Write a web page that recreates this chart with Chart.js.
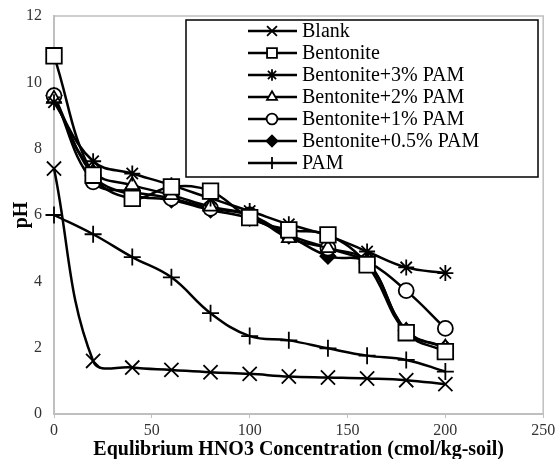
<!DOCTYPE html>
<html>
<head>
<meta charset="utf-8">
<script src="https://cdn.jsdelivr.net/npm/chart.js@4/dist/chart.umd.min.js"></script>
<style>
  html, body { margin: 0; padding: 0; background: #fff; }
  #wrap { width: 556px; height: 459px; }
</style>
</head>
<body>
<div id="wrap"><canvas id="mainChart" width="556" height="459"></canvas></div>
<script>
// acid concentration (cmol/kg-soil)
const conc = [0, 20, 40, 60, 80, 100, 120, 140, 160, 180, 200];

const blank      = [7.4, 1.6, 1.4, 1.33, 1.26, 1.21, 1.13, 1.1, 1.07, 1.02, 0.9];
const bentonite  = [10.8, 7.2, 6.5, 6.85, 6.72, 5.92, 5.55, 5.4, 4.5, 2.45, 1.88];
const bent3pam   = [9.4, 7.62, 7.25, 6.9, 6.5, 6.12, 5.72, 5.38, 4.9, 4.42, 4.25];
const bent2pam   = [9.5, 7.3, 6.9, 6.6, 6.25, 6.0, 5.3, 5.0, 4.6, 2.5, 2.0];
const bent1pam   = [9.6, 7.0, 6.7, 6.5, 6.2, 6.0, 5.4, 5.0, 4.6, 3.72, 2.58];
const bent05pam  = [9.6, 7.2, 6.6, 6.45, 6.15, 5.9, 5.37, 4.76, 4.55, 2.52, 2.0];
const pam        = [6.0, 5.42, 4.73, 4.12, 3.04, 2.35, 2.22, 1.98, 1.76, 1.63, 1.28];

const seriesNames = ['Blank', 'Bentonite', 'Bentonite+3% PAM', 'Bentonite+2% PAM',
                     'Bentonite+1% PAM', 'Bentonite+0.5% PAM', 'PAM'];

const xTicks = [0, 50, 100, 150, 200, 250];
const yTicks = [0, 2, 4, 6, 8, 10, 12];

const pts = (vals) => conc.map((c, i) => ({x: c, y: vals[i]}));

const mk = (label, vals, style, radius, fill) => ({
    label,
    data: pts(vals),
    borderColor: '#000',
    backgroundColor: '#000',
    borderWidth: 2.5,
    tension: 0.4,
    clip: false,
    pointStyle: style,
    pointRadius: radius,
    pointBorderWidth: 1.8,
    pointBorderColor: '#000',
    pointBackgroundColor: fill,
    fill: false,
    legendRadius: Math.min(radius * 0.72, 7),
});

const noPad = (s) => { s.paddingTop = 0; s.paddingBottom = 0; s.paddingLeft = 0; s.paddingRight = 0; };

const frame = {
    id: 'frame',
    beforeDatasetsDraw(chart) {
        const {ctx, chartArea: a} = chart;
        ctx.save();
        ctx.strokeStyle = '#bfbfbf';
        ctx.lineWidth = 1.5;
        ctx.beginPath();
        ctx.moveTo(a.left, a.top);
        ctx.lineTo(a.right, a.top);
        ctx.lineTo(a.right, a.bottom);
        ctx.stroke();
        ctx.restore();
    }
};

// legend box sits inside the plot, top right
const boxLegend = {
    id: 'boxLegend',
    afterDatasetsDraw(chart) {
        const ctx = chart.ctx;
        ctx.save();
        ctx.fillStyle = '#fff';
        ctx.fillRect(186, 20, 352, 157);
        ctx.strokeStyle = '#000';
        ctx.lineWidth = 1.5;
        ctx.strokeRect(186, 20, 352, 157);
        ctx.font = '20px "Liberation Serif", "Times New Roman", serif';
        ctx.textBaseline = 'middle';
        chart.data.datasets.forEach((ds, i) => {
            const y = 31 + i * 22;
            ctx.strokeStyle = '#000';
            ctx.lineWidth = 2.5;
            ctx.beginPath();
            ctx.moveTo(248, y);
            ctx.lineTo(297, y);
            ctx.stroke();
            ctx.fillStyle = ds.pointBackgroundColor;
            ctx.lineWidth = 1.8;
            Chart.helpers.drawPoint(ctx, {pointStyle: ds.pointStyle, rotation: 0, radius: ds.legendRadius, borderWidth: 1.8}, 272, y);
            ctx.fillStyle = '#000';
            ctx.fillText(ds.label, 302, y + 1);
        });
        ctx.restore();
    }
};

new Chart(document.getElementById('mainChart'), {
    type: 'line',
    data: {
        datasets: [
            mk(seriesNames[0], blank, 'crossRot', 10, '#fff'),
            mk(seriesNames[1], bentonite, 'rect', 11, '#fff'),
            mk(seriesNames[2], bent3pam, 'star', 8, '#fff'),
            mk(seriesNames[3], bent2pam, 'triangle', 8, '#fff'),
            mk(seriesNames[4], bent1pam, 'circle', 7.5, '#fff'),
            mk(seriesNames[5], bent05pam, 'rectRot', 7.5, '#000'),
            mk(seriesNames[6], pam, 'cross', 8.5, '#fff'),
        ]
    },
    options: {
        responsive: false,
        animation: false,
        devicePixelRatio: 1,
        layout: {
            padding: {top: 16, right: 11, left: 0, bottom: 0}
        },
        scales: {
            x: {
                type: 'linear',
                min: 0,
                max: 250,
                afterBuildTicks: (s) => { s.ticks = xTicks.map(v => ({value: v})); },
                afterFit: (s) => { s.height = 45; noPad(s); },
                grid: {
                    drawOnChartArea: false,
                    drawTicks: true,
                    tickLength: 4,
                    color: '#bfbfbf',
                },
                border: {color: '#bfbfbf', width: 2},
                ticks: {
                    color: '#333',
                    padding: 3,
                    maxRotation: 0,
                    font: {family: '"Liberation Serif", serif', size: 16},
                },
                title: {
                    display: true,
                    text: 'Equlibrium HNO3 Concentration (cmol/kg-soil)',
                    color: '#000',
                    padding: {top: 0, bottom: 0},
                    font: {family: '"Liberation Serif", serif', size: 20, weight: 'bold', lineHeight: 0.95},
                }
            },
            y: {
                min: 0,
                max: 12,
                afterBuildTicks: (s) => { s.ticks = yTicks.map(v => ({value: v})); },
                afterFit: (s) => { s.width = 54; noPad(s); },
                grid: {display: false, drawTicks: false},
                border: {color: '#bfbfbf', width: 2},
                ticks: {
                    color: '#333',
                    padding: 12,
                    font: {family: '"Liberation Serif", serif', size: 16},
                },
                title: {
                    display: true,
                    text: 'pH',
                    color: '#000',
                    padding: {top: 10, bottom: 0},
                    font: {family: '"Liberation Serif", serif', size: 20, weight: 'bold', lineHeight: 1.2},
                }
            }
        },
        plugins: {
            legend: {display: false},
            tooltip: {enabled: false}
        }
    },
    plugins: [frame, boxLegend]
});
</script>
</body>
</html>
